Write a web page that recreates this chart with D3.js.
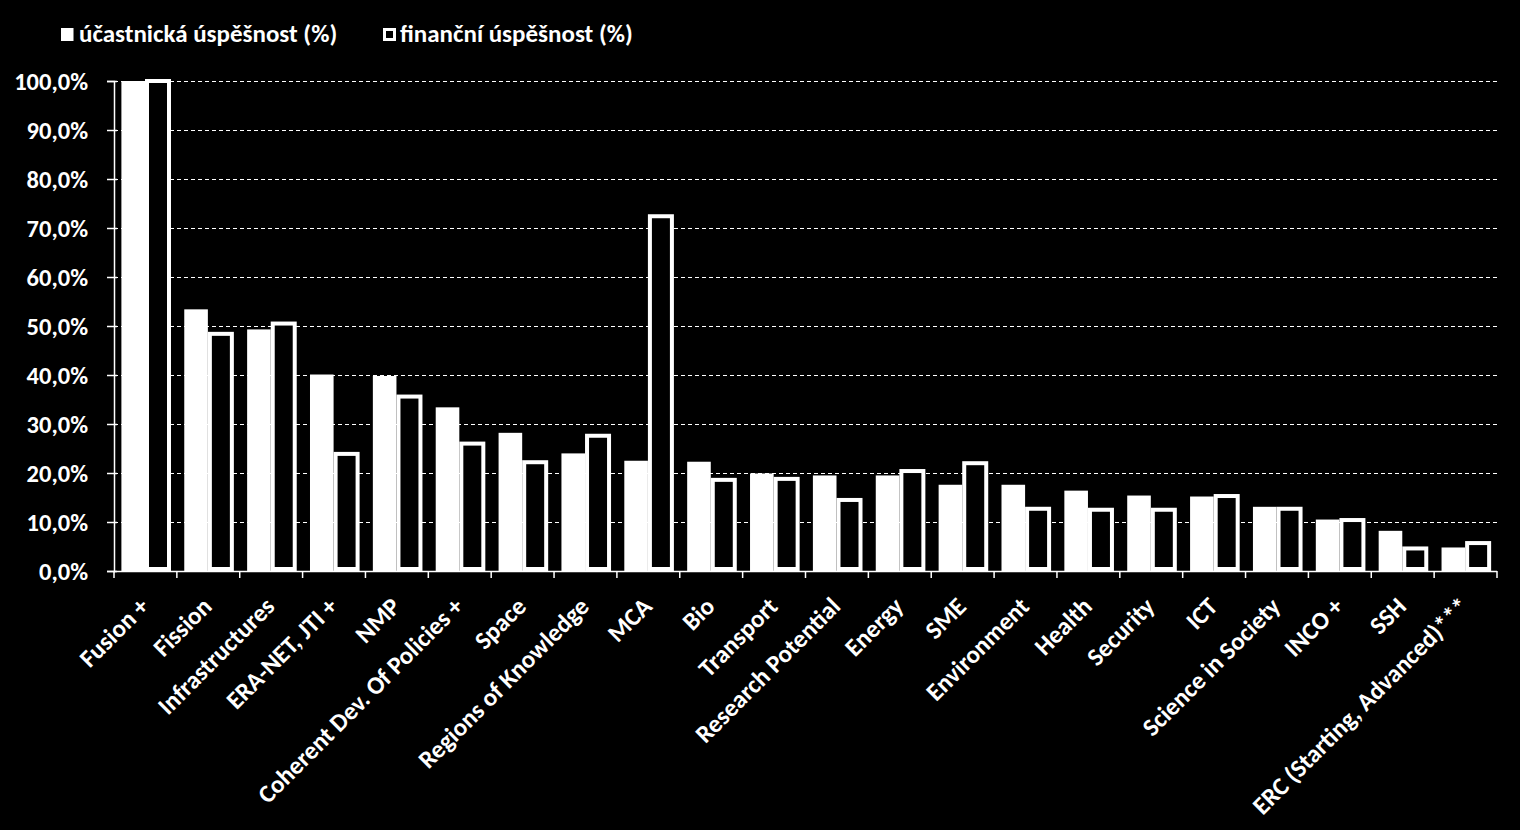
<!DOCTYPE html>
<html><head><meta charset="utf-8">
<script src="https://cdn.jsdelivr.net/npm/d3@7"></script>
<style>
html,body{margin:0;padding:0;background:#000;}
svg{display:block;}
text{font-family:Carlito,Lato,"Open Sans",sans-serif;font-weight:bold;fill:#fff;}
</style></head>
<body><svg id="c" width="1520" height="830"></svg>
<script>
const categories = ["Fusion +","Fission","Infrastructures","ERA-NET, JTI +","NMP","Coherent Dev. Of Policies +","Space","Regions of Knowledge","MCA","Bio","Transport","Research Potential","Energy","SME","Environment","Health","Security","ICT","Science in Society","INCO +","SSH","ERC (Starting, Advanced)***"];
const participationSuccess = [100.0,53.4,49.3,40.1,39.8,33.4,28.2,24.0,22.5,22.3,19.9,19.5,19.5,17.6,17.6,16.4,15.4,15.2,13.1,10.5,8.2,4.8];
const financialSuccess = [100.0,48.4,50.5,23.9,35.6,26.0,22.2,27.6,72.4,18.6,18.8,14.5,20.4,22.0,12.7,12.5,12.5,15.3,12.7,10.4,4.6,5.7];
const yTicks = [0,10,20,30,40,50,60,70,80,90,100];
const seriesNames = ["účastnická úspěšnost (%)","finanční úspěšnost (%)"];

(function(){
const svg = d3.select("#c");
const pL = 114, pR = 1497, pT = 81, pB = 571;
const x = d3.scaleBand().domain(categories).range([pL, pR]).paddingInner(0).paddingOuter(0);
const y = d3.scaleLinear().domain([0,100]).range([pB, pT]);
const fmt = v => d3.format(".1f")(v).replace(".", ",") + "%";

svg.append("g").selectAll("line").data(yTicks.filter(d=>d>0)).join("line")
  .attr("x1", pL).attr("x2", pR)
  .attr("y1", d=>y(d)+0.5).attr("y2", d=>y(d)+0.5)
  .attr("stroke","#fff").attr("stroke-width",1.2).attr("stroke-dasharray","4,3");

const bw = x.bandwidth();
const g = svg.append("g");
categories.forEach((c,i)=>{
  const x0 = x(c);
  g.append("rect").attr("x", x0+7.4).attr("width", 23.6)
    .attr("y", y(participationSuccess[i])).attr("height", pB - y(participationSuccess[i]))
    .attr("fill","#fff");
  g.append("rect").attr("x", x0+33).attr("width", 22)
    .attr("y", y(financialSuccess[i])).attr("height", pB - 2 - y(financialSuccess[i]))
    .attr("fill","#000").attr("stroke","#fff").attr("stroke-width",4);
});

const ya = svg.append("g").attr("transform",`translate(${pL},0)`)
  .call(d3.axisLeft(y).tickValues(yTicks).tickFormat(fmt).tickSize(7).tickPadding(19));
ya.select(".domain").attr("stroke","#fff").attr("stroke-width",1.5);
ya.selectAll(".tick line").attr("stroke","#fff").attr("stroke-width",1.5).attr("x2",-7).attr("x1",3);
ya.selectAll(".tick text").attr("font-size",24.5).attr("fill","#fff").attr("dy","0.35em");

const xa = svg.append("g").attr("transform",`translate(0,${pB})`);
xa.append("line").attr("x1",pL).attr("x2",pR).attr("y1",0.5).attr("y2",0.5).attr("stroke","#fff").attr("stroke-width",1.5);
const edges = categories.map(c=>x(c)).concat([pR]);
xa.selectAll("line.t").data(edges).join("line").attr("class","t")
  .attr("x1",d=>d).attr("x2",d=>d).attr("y1",0).attr("y2",7).attr("stroke","#fff").attr("stroke-width",1.5);
xa.selectAll("text.l").data(categories).join("text").attr("class","l")
  .attr("font-size",25)
  .attr("text-anchor","end")
  .attr("transform",d=>`translate(${x(d)+bw/2+5},${37}) rotate(-45)`)
  .text(d=>d);

const lg = svg.append("g");
lg.append("rect").attr("x",61).attr("y",28).attr("width",12.5).attr("height",13).attr("fill","#fff");
lg.append("text").attr("x",79).attr("y",42).attr("font-size",25).text(seriesNames[0]);
lg.append("rect").attr("x",384.5).attr("y",29.5).attr("width",10).attr("height",10).attr("fill","#000").attr("stroke","#fff").attr("stroke-width",3);
lg.append("text").attr("x",400).attr("y",42).attr("font-size",25).text(seriesNames[1]);
})();
</script></body></html>
